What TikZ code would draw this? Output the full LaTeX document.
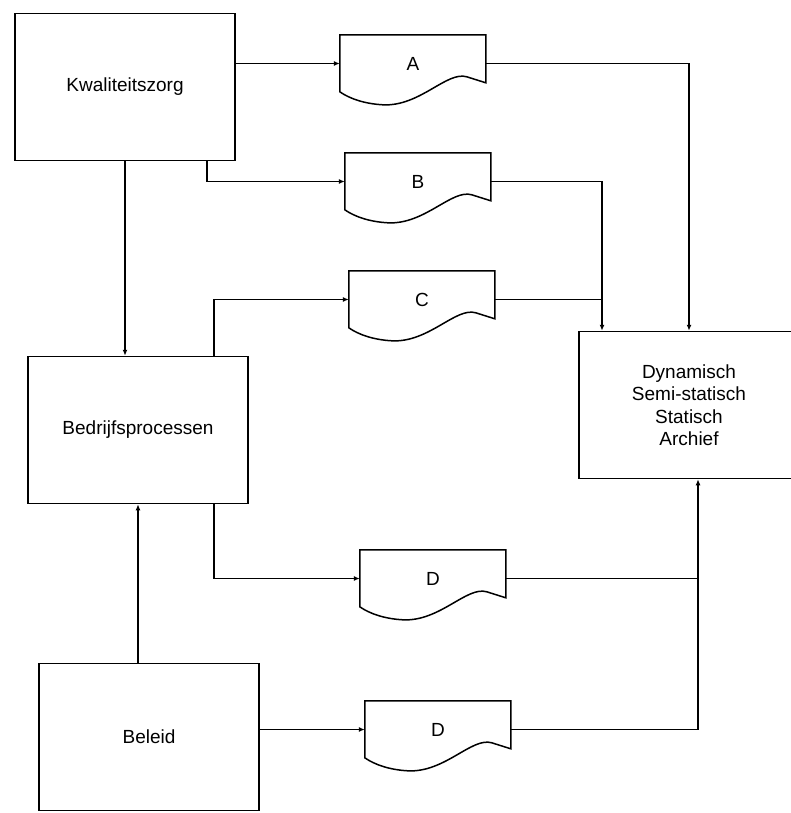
\documentclass[tikz,border=0pt]{standalone}
\usepackage{fontspec}
\setmainfont{Liberation Sans}
\usetikzlibrary{arrows.meta}
% omtrek van een documentsymbool rond een (onzichtbare) node
\newcommand{\docvorm}[1]{%
  \draw[lijn, shift={(#1.north west)}] (0,0) -- (146,0) -- (146,48) -- (127,42)
    .. controls (107,36) and (80,72) .. (43,70)
    .. controls (25,69) and (10,64) .. (0,57) -- cycle;}

\begin{document}
\begin{tikzpicture}[
    x=1pt, y=-1pt,
    blok/.style={draw, line width=1.5pt, minimum width=220pt, minimum height=147pt, inner sep=0pt, align=center, font=\fontsize{19}{22.5}\selectfont},
    doc/.style={minimum width=146pt, minimum height=57pt, inner sep=0pt, font=\fontsize{19}{22.5}\selectfont},
    lijn/.style={line width=1.5pt},
    pijl/.style={lijn, -{Latex[length=6pt, width=5pt]}}
]
    \useasboundingbox (0,0) rectangle (791,813);
    \clip (0,0) rectangle (791,813);
    \node[blok] (kwaliteit) at (125,87) {Kwaliteitszorg};
    \node[blok] (bedrijf) at (138,430) {Bedrijfsprocessen};
    \node[blok] (beleid) at (149,737) {Beleid};
    \node[blok] (dynamisch) at (689,405) {Dynamisch\\ Semi-statisch\\ Statisch\\ Archief};
    \node[doc] (docA) at (413,63.5) {A};
    \node[doc] (docB) at (418,181.5) {B};
    \node[doc] (docC) at (422,299.5) {C};
    \node[doc] (docD1) at (433,578.5) {D};
    \node[doc] (docD2) at (438,729.5) {D};
    \docvorm{docA}
    \docvorm{docB}
    \docvorm{docC}
    \docvorm{docD1}
    \docvorm{docD2}
    \coordinate (knikB) at ([xshift=-87pt]dynamisch.north);
    \coordinate (knikD) at ([xshift=9pt]dynamisch.south);
    \draw[pijl] (kwaliteit.east |- docA.west) -- (docA.west);
    \draw[pijl] ([xshift=82pt]kwaliteit.south) |- (docB.west);
    \draw[pijl] (kwaliteit.south) -- (bedrijf.north -| kwaliteit.south);
    \draw[pijl] ([xshift=76pt]bedrijf.north) |- (docC.west);
    \draw[pijl] ([xshift=76pt]bedrijf.south) |- (docD1.west);
    \draw[pijl] (beleid.north -| bedrijf.south) -- (bedrijf.south);
    \draw[pijl] (beleid.east |- docD2.west) -- (docD2.west);
    \draw[pijl] (docA.east) -| (dynamisch.north);
    \draw[pijl] (docB.east) -| (knikB);
    \draw[lijn] (docC.east) -- (docC.east -| knikB);
    \draw[pijl] (docD2.east) -| (knikD);
    \draw[lijn] (docD1.east) -- (docD1.east -| knikD);
\end{tikzpicture}
\end{document}
